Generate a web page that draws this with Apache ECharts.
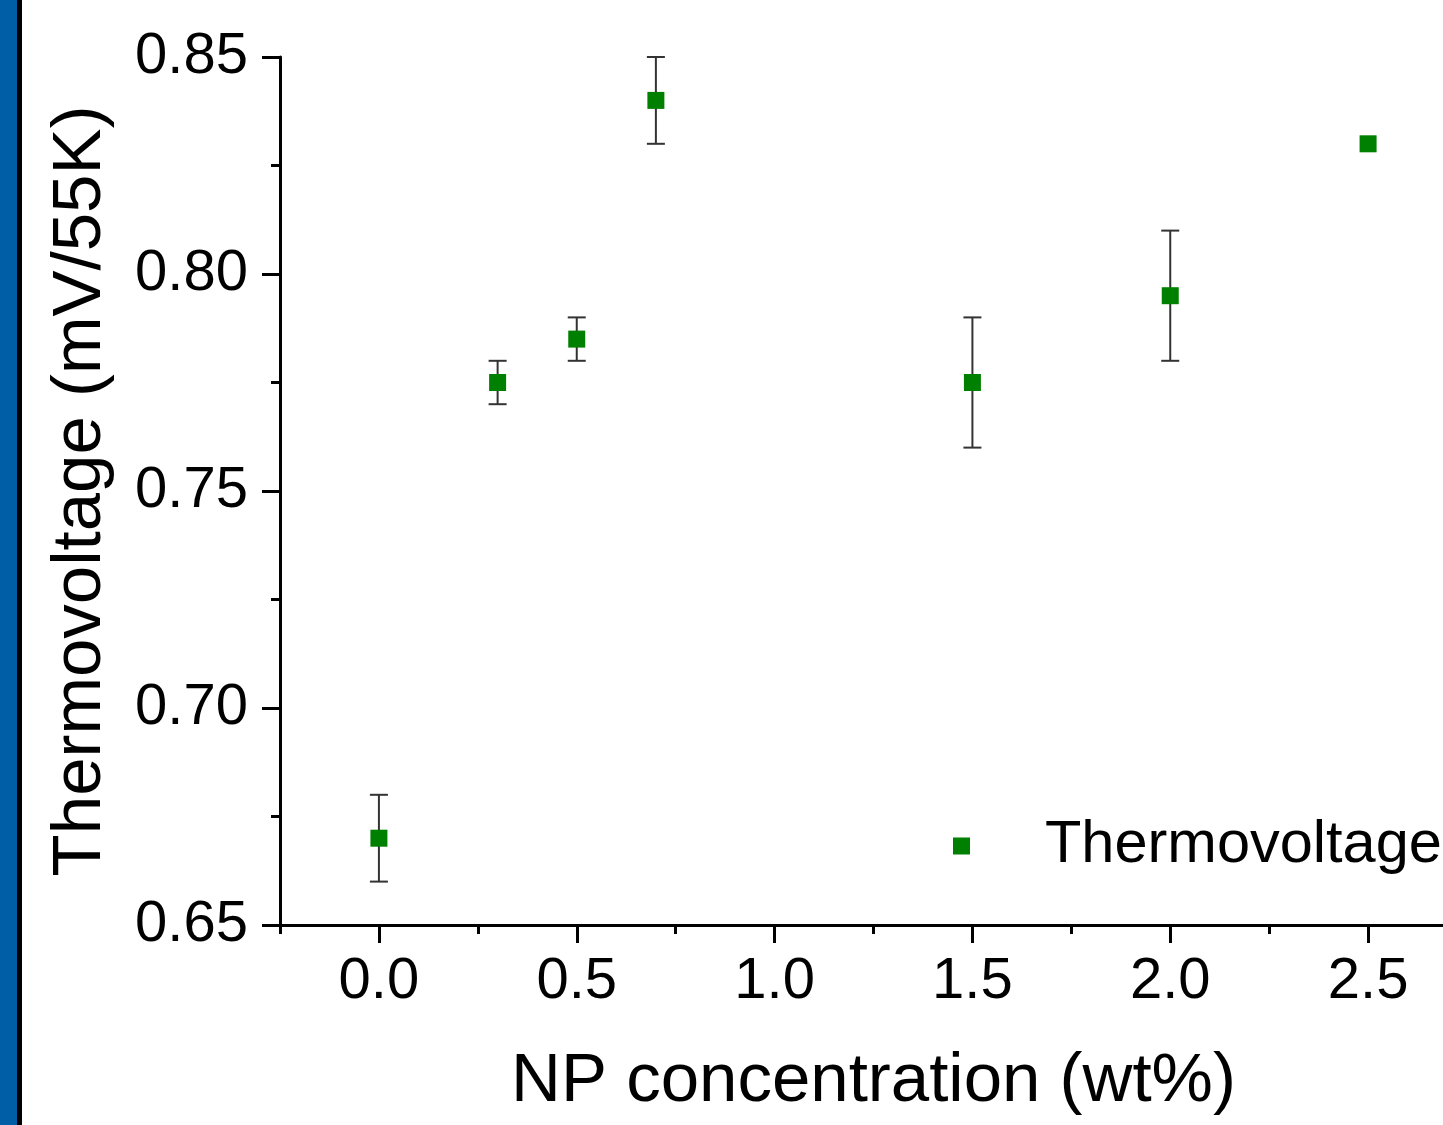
<!DOCTYPE html>
<html>
<head>
<meta charset="utf-8">
<script src="https://cdn.jsdelivr.net/npm/echarts@6/dist/echarts.min.js"></script>
<style>
html,body{margin:0;padding:0;background:#fff;overflow:hidden;width:1443px;height:1125px;}
#chart{width:1480px;height:1125px;}
</style>
</head>
<body>
<div id="chart"></div>
<script>
// Data
const concentrations = [0.0, 0.3, 0.5, 0.7, 1.5, 2.0, 2.5];
const thermovoltage  = [0.670, 0.775, 0.785, 0.840, 0.775, 0.795, 0.830];
const errors         = [0.010, 0.005, 0.005, 0.010, 0.015, 0.015, 0.000];
const xMajorTicks    = [0.0, 0.5, 1.0, 1.5, 2.0, 2.5];
const seriesName     = 'Thermovoltage';
const xTitle         = 'NP concentration (wt%)';
const yTitle         = 'Thermovoltage (mV/55K)';

const FONT = "'Liberation Sans', Arial, sans-serif";
const chart = echarts.init(document.getElementById('chart'));

const points = concentrations.map((x, i) => [x, thermovoltage[i]]);
const errData = concentrations.map((x, i) => [x, thermovoltage[i] - errors[i], thermovoltage[i] + errors[i]]);

const option = {
  backgroundColor: '#fff',
  animation: false,
  textStyle: { fontFamily: FONT },
  grid: { left: 280, top: 57, bottom: 200, right: 13, containLabel: false },
  legend: {
    data: [seriesName],
    left: 948, top: 811,
    icon: 'rect', itemWidth: 17, itemHeight: 17,
    textStyle: { fontSize: 59.5, color: '#000', fontFamily: FONT, padding: [0, 0, 0, 70] }
  },
  xAxis: [{
    type: 'value', min: -0.25, max: 2.75, interval: 0.25,
    axisLine: { show: true, onZero: false, lineStyle: { color: '#000', width: 3 } },
    axisTick: { show: true, inside: false, length: 9, lineStyle: { color: '#000', width: 3 } },
    axisLabel: { show: false },
    splitLine: { show: false }
  }, {
    type: 'value', min: -0.25, max: 2.75, interval: 0.25, position: 'bottom',
    axisLine: { show: false, onZero: false },
    axisTick: { show: true, inside: false, length: 18, customValues: xMajorTicks, lineStyle: { color: '#000', width: 3 } },
    axisLabel: { show: true, customValues: xMajorTicks, fontSize: 58, color: '#000', margin: 28, fontFamily: FONT,
                 formatter: v => v.toFixed(1) },
    splitLine: { show: false },
    name: xTitle, nameLocation: 'middle', nameGap: 122,
    nameTextStyle: { fontSize: 69, color: '#000', fontFamily: FONT }
  }],
  yAxis: {
    type: 'value', min: 0.65, max: 0.85, interval: 0.05,
    axisLine: { show: true, onZero: false, lineStyle: { color: '#000', width: 3 } },
    axisTick: { show: true, inside: false, length: 18, lineStyle: { color: '#000', width: 3 } },
    minorTick: { show: true, splitNumber: 2, length: 9, lineStyle: { color: '#000', width: 3 } },
    splitLine: { show: false }, minorSplitLine: { show: false },
    axisLabel: { fontSize: 58, color: '#000', margin: 32, fontFamily: FONT, formatter: v => v.toFixed(2) },
    name: yTitle, nameLocation: 'middle', nameGap: 165,
    nameTextStyle: { fontSize: 69, color: '#000', fontFamily: FONT }
  },
  graphic: [
    { type: 'rect', left: 0, top: 0, shape: { width: 17, height: 1125 }, style: { fill: '#005ea6' }, z: 100 },
    { type: 'rect', left: 17, top: 0, shape: { width: 5, height: 1125 }, style: { fill: '#000' }, z: 100 }
  ],
  series: [{
    type: 'custom', name: 'err', xAxisIndex: 0, data: errData, z: 2, silent: true,
    renderItem: function (params, api) {
      const x = api.value(0), lo = api.value(1), hi = api.value(2);
      if (hi - lo <= 0) return null;
      const pLo = api.coord([x, lo]), pHi = api.coord([x, hi]);
      const hw = 9;
      const st = { stroke: '#333', lineWidth: 2 };
      return { type: 'group', children: [
        { type: 'line', shape: { x1: pLo[0], y1: pLo[1], x2: pHi[0], y2: pHi[1] }, style: st },
        { type: 'line', shape: { x1: pLo[0] - hw, y1: pLo[1], x2: pLo[0] + hw, y2: pLo[1] }, style: st },
        { type: 'line', shape: { x1: pHi[0] - hw, y1: pHi[1], x2: pHi[0] + hw, y2: pHi[1] }, style: st }
      ]};
    }
  }, {
    type: 'scatter', name: seriesName, xAxisIndex: 0, data: points, z: 5,
    symbol: 'rect', symbolSize: 17,
    itemStyle: { color: '#008000', opacity: 1 }
  }]
};
chart.setOption(option);
</script>
</body>
</html>
